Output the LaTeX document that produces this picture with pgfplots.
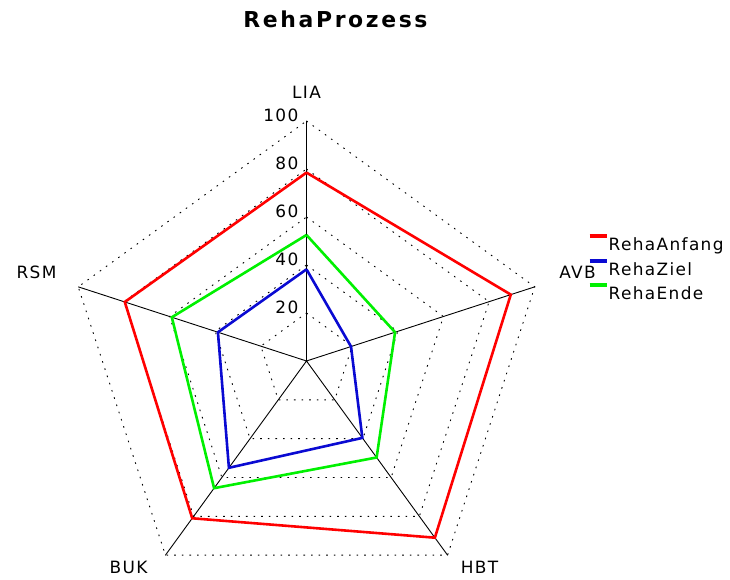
\documentclass[border=0pt]{standalone}
\usepackage{fontspec}
\setmainfont{DejaVu Sans}[LetterSpace=8]
\newfontfamily\titlefont{DejaVu Sans Bold}[LetterSpace=12]
\usepackage{pgfplots}
\pgfplotsset{compat=1.18}
\definecolor{cRed}{RGB}{255,0,0}
\definecolor{cBlue}{RGB}{10,10,210}
\definecolor{cGreen}{RGB}{0,240,0}
\begin{document}
\begin{tikzpicture}
\begin{axis}[
  at={(0,0)}, anchor=center,
  x=2.4bp, y=2.4bp,
  xmin=-100, xmax=100, ymin=-100, ymax=100,
  hide axis, clip=false,
  legend style={at={(axis description cs:1.0854,0.764)}, anchor=north west,
    draw=none, fill=none, inner sep=0pt, row sep=4bp,
    font=\fontsize{17}{20}\selectfont,
    nodes={inner sep=0pt, text height=13bp, text depth=4bp},
    /tikz/every even column/.append style={column sep=4bp}},
  legend cell align=left,
  legend image code/.code={\draw[#1, line width=4bp] (0bp,10bp) -- (17bp,10bp);},
  grid line/.style={black, line width=0.9bp, dash pattern=on 1.6bp off 6bp, data cs=polar, forget plot},
]
% dotted pentagon grid
\addplot[grid line] coordinates {(90,20) (18,20) (306,20) (234,20) (162,20) (90,20)};
\addplot[grid line] coordinates {(90,40) (18,40) (306,40) (234,40) (162,40) (90,40)};
\addplot[grid line] coordinates {(90,60) (18,60) (306,60) (234,60) (162,60) (90,60)};
\addplot[grid line] coordinates {(90,80) (18,80) (306,80) (234,80) (162,80) (90,80)};
\addplot[grid line] coordinates {(90,100) (18,100) (306,100) (234,100) (162,100) (90,100)};
% spokes
\addplot[black, line width=0.9bp, line join=round, data cs=polar, forget plot] coordinates {(90,100) (0,0) (18,100) (0,0) (306,100) (0,0) (234,100) (0,0) (162,100)};
% data
\addplot[cRed, line width=2.6bp, data cs=polar] coordinates {(90,78.5) (18,89.5) (306,91) (234,81) (162,79.6) (90,78.5)};
\addlegendentry{RehaAnfang}
\addplot[cBlue, line width=2.6bp, data cs=polar] coordinates {(90,38.2) (18,19.5) (306,39.6) (234,55) (162,38.8) (90,38.2)};
\addlegendentry{RehaZiel}
\addplot[cGreen, line width=2.6bp, data cs=polar] coordinates {(90,52.5) (18,38.8) (306,49.7) (234,65.5) (162,59) (90,52.5)};
\addlegendentry{RehaEnde}
% radial tick labels
\foreach \v in {20,40,60,80,100}{
  \edef\tmp{\noexpand\node[anchor=east, inner sep=0pt, xshift=-8bp, yshift=6bp, font=\noexpand\fontsize{17}{20}\noexpand\selectfont] at (axis cs:0,\v) {\v};}
  \tmp
}
\end{axis}
\begin{scope}[every node/.style={font=\fontsize{17}{20}\selectfont, inner sep=0pt}]
\node at (0bp,269bp) {LIA};
\node at (271bp,89bp) {AVB};
\node at (173bp,-206bp) {HBT};
\node at (-178bp,-206bp) {BUK};
\node at (-270bp,89bp) {RSM};
\end{scope}
\node[font=\titlefont\fontsize{22}{25}\selectfont, inner sep=0pt] at (29bp,342bp) {RehaProzess};
\pgfresetboundingbox
\path[use as bounding box] (-306.5bp,-219bp) rectangle (423.5bp,361bp);
\end{tikzpicture}
\end{document}
